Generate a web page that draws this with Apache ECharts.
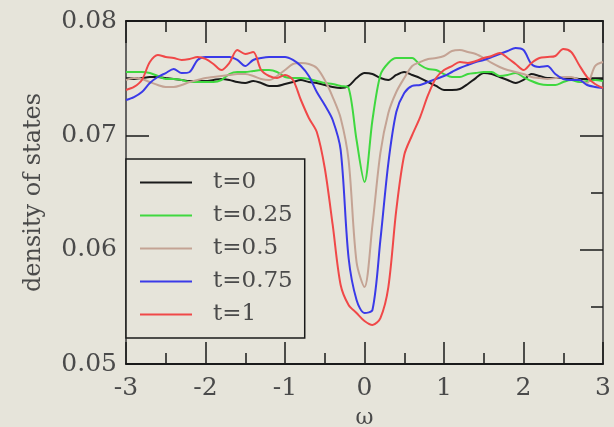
<!DOCTYPE html>
<html>
<head>
<meta charset="utf-8">
<script src="https://cdn.jsdelivr.net/npm/echarts@6/dist/echarts.min.js"></script>
<style>
body { margin: 0; background: #e6e4da; }
#chart { width: 614px; height: 427px; }
</style>
</head>
<body>
<div id="chart"></div>
<script>
// Frequency grid (omega)
const omega = [
  -3.0, -2.9, -2.8, -2.7, -2.6, -2.5, -2.4, -2.3, -2.2, -2.1,
  -2.0, -1.9, -1.8, -1.7, -1.6, -1.5, -1.4, -1.3, -1.2, -1.1,
  -1.0, -0.9, -0.8, -0.7, -0.6, -0.5, -0.4, -0.3, -0.2, -0.1,
   0.0,  0.1,  0.2,  0.3,  0.4,  0.5,  0.6,  0.7,  0.8,  0.9,
   1.0,  1.1,  1.2,  1.3,  1.4,  1.5,  1.6,  1.7,  1.8,  1.9,
   2.0,  2.1,  2.2,  2.3,  2.4,  2.5,  2.6,  2.7,  2.8,  2.9,
   3.0
];

// Density of states for each hopping value t
const dosT0 = [
  0.07493, 0.07493, 0.07501, 0.07510, 0.07510, 0.07501, 0.07493, 0.07484, 0.07475, 0.07475,
  0.07475, 0.07484, 0.07493, 0.07484, 0.07466, 0.07458, 0.07475, 0.07458, 0.07432, 0.07432,
  0.07449, 0.07466, 0.07484, 0.07466, 0.07458, 0.07440, 0.07423, 0.07414, 0.07432, 0.07501,
  0.07545, 0.07536, 0.07501, 0.07484, 0.07528, 0.07554, 0.07528, 0.07501, 0.07466, 0.07432,
  0.07397, 0.07397, 0.07405, 0.07449, 0.07501, 0.07545, 0.07536, 0.07510, 0.07484, 0.07458,
  0.07484, 0.07536, 0.07519, 0.07501, 0.07501, 0.07501, 0.07501, 0.07493, 0.07493, 0.07493,
  0.07493
];
const dosT025 = [
  0.07554, 0.07554, 0.07554, 0.07545, 0.07519, 0.07493, 0.07493, 0.07484, 0.07466, 0.07466,
  0.07466, 0.07466, 0.07484, 0.07536, 0.07554, 0.07554, 0.07563, 0.07571, 0.07571, 0.07554,
  0.07510, 0.07501, 0.07501, 0.07493, 0.07475, 0.07458, 0.07449, 0.07432, 0.07414, 0.06959,
  0.06592, 0.07134, 0.07528, 0.07633, 0.07676, 0.07676, 0.07676, 0.07615, 0.07580, 0.07571,
  0.07536, 0.07510, 0.07510, 0.07536, 0.07545, 0.07554, 0.07554, 0.07519, 0.07528, 0.07545,
  0.07510, 0.07475, 0.07449, 0.07440, 0.07440, 0.07466, 0.07484, 0.07466, 0.07475, 0.07484,
  0.07475
];
const dosT05 = [
  0.07484, 0.07501, 0.07493, 0.07466, 0.07440, 0.07423, 0.07423, 0.07440, 0.07466, 0.07484,
  0.07501, 0.07510, 0.07519, 0.07528, 0.07536, 0.07536, 0.07519, 0.07493, 0.07484, 0.07519,
  0.07571, 0.07624, 0.07633, 0.07624, 0.07589, 0.07484, 0.07335, 0.07152, 0.06784, 0.05892,
  0.05673, 0.06216, 0.06846, 0.07195, 0.07379, 0.07501, 0.07606, 0.07641, 0.07668, 0.07676,
  0.07694, 0.07738, 0.07746, 0.07729, 0.07711, 0.07676, 0.07633, 0.07598, 0.07571, 0.07554,
  0.07536, 0.07510, 0.07501, 0.07493, 0.07501, 0.07510, 0.07510, 0.07484, 0.07458, 0.07606,
  0.07641
];
const dosT075 = [
  0.07309, 0.07335, 0.07379, 0.07458, 0.07510, 0.07545, 0.07580, 0.07545, 0.07554, 0.07659,
  0.07685, 0.07685, 0.07685, 0.07685, 0.07659, 0.07606, 0.07659, 0.07676, 0.07685, 0.07685,
  0.07685, 0.07659, 0.07606, 0.07519, 0.07379, 0.07265, 0.07134, 0.06872, 0.05927, 0.05560,
  0.05446, 0.05472, 0.06085, 0.06758, 0.07204, 0.07370, 0.07432, 0.07440, 0.07466, 0.07493,
  0.07519, 0.07554, 0.07589, 0.07615, 0.07641, 0.07659, 0.07685, 0.07711, 0.07738, 0.07764,
  0.07746, 0.07624, 0.07598, 0.07606, 0.07536, 0.07493, 0.07484, 0.07484, 0.07440, 0.07423,
  0.07414
];
const dosT1 = [
  0.07397, 0.07423, 0.07484, 0.07641, 0.07703, 0.07685, 0.07676, 0.07659, 0.07668, 0.07685,
  0.07668, 0.07624, 0.07571, 0.07633, 0.07746, 0.07711, 0.07729, 0.07571, 0.07519, 0.07501,
  0.07528, 0.07484, 0.07309, 0.07152, 0.07029, 0.06714, 0.06216, 0.05691, 0.05516, 0.05446,
  0.05376, 0.05341, 0.05402, 0.05673, 0.06347, 0.06828, 0.07003, 0.07160, 0.07353, 0.07501,
  0.07571, 0.07606, 0.07641, 0.07633, 0.07650, 0.07676, 0.07694, 0.07720, 0.07676, 0.07624,
  0.07571, 0.07633, 0.07676, 0.07685, 0.07694, 0.07755, 0.07729, 0.07615, 0.07510, 0.07449,
  0.07414
];

const seriesNames = ['t=0', 't=0.25', 't=0.5', 't=0.75', 't=1'];
const seriesData = [dosT0, dosT025, dosT05, dosT075, dosT1];
const seriesColors = ['#1a1a1a', '#3fd83f', '#c4a394', '#3a3ae8', '#f04848'];

const BG = '#e6e4da', FONT = 'DejaVu Serif', TEXT = '#4a4a4a';

// Frame axes: every side carries inward major and minor ticks
function fx(pos, lab) {
  return {
    type: 'value', position: pos, min: -3, max: 3, interval: 1,
    axisLine: { show: true, onZero: false, lineStyle: { color: '#1a1a1a', width: 2 } },
    axisTick: { show: true, inside: true, length: 22, lineStyle: { color: '#1a1a1a', width: 1.5 } },
    minorTick: { show: true, splitNumber: 2, length: 11, lineStyle: { color: '#1a1a1a', width: 1.5 } },
    axisLabel: lab ? { show: true, fontFamily: FONT, fontSize: 25, color: TEXT, margin: 12 } : { show: false },
    splitLine: { show: false }
  };
}
function fy(pos, lab) {
  return {
    type: 'value', position: pos, min: 0.05, max: 0.08, interval: 0.01,
    axisLine: { show: true, onZero: false, lineStyle: { color: '#3a3a3a', width: 1.5 } },
    axisTick: { show: true, inside: true, length: 23, lineStyle: { color: '#1a1a1a', width: 1.5 } },
    minorTick: { show: true, splitNumber: 2, length: 12, lineStyle: { color: '#1a1a1a', width: 1.5 } },
    axisLabel: lab ? { show: true, fontFamily: FONT, fontSize: 25, color: TEXT, margin: 9,
                       formatter: v => v.toFixed(2) } : { show: false },
    splitLine: { show: false }
  };
}

function build() {
  const xb = fx('bottom', true), yl = fy('left', true);
  Object.assign(xb, { name: 'ω', nameLocation: 'middle', nameGap: 43,
    nameTextStyle: { fontFamily: FONT, fontSize: 22, color: TEXT } });
  Object.assign(yl, { name: 'density of states', nameLocation: 'middle', nameGap: 80, nameRotate: 90,
    nameTextStyle: { fontFamily: FONT, fontSize: 24, color: TEXT } });
  return {
    animation: false,
    backgroundColor: BG,
    grid: { left: 126, right: 11, top: 21, bottom: 63, outerBoundsMode: 'none' },
    xAxis: [xb, fx('top', false)],
    yAxis: [yl, fy('right', false)],
    legend: {
      orient: 'vertical', left: 126, top: 159, padding: [12, 12, 12, 14],
      itemGap: 10, itemWidth: 52, itemHeight: 2, icon: 'rect',
      backgroundColor: BG, borderColor: '#1a1a1a', borderWidth: 1.5,
      data: seriesNames,
      textStyle: { fontFamily: FONT, fontSize: 23, color: TEXT, lineHeight: 20, padding: [0, 0, 0, 16] }
    },
    series: seriesNames.map((n, k) => ({
      name: n,
      type: 'line',
      data: omega.map((w, i) => [w, seriesData[k][i]]),
      showSymbol: false,
      symbol: 'none',
      smooth: 0.3,
      itemStyle: { color: seriesColors[k] },
      lineStyle: { color: seriesColors[k], width: 2 }
    }))
  };
}

const chart = echarts.init(document.getElementById('chart'));
chart.setOption(build());
</script>
</body>
</html>
